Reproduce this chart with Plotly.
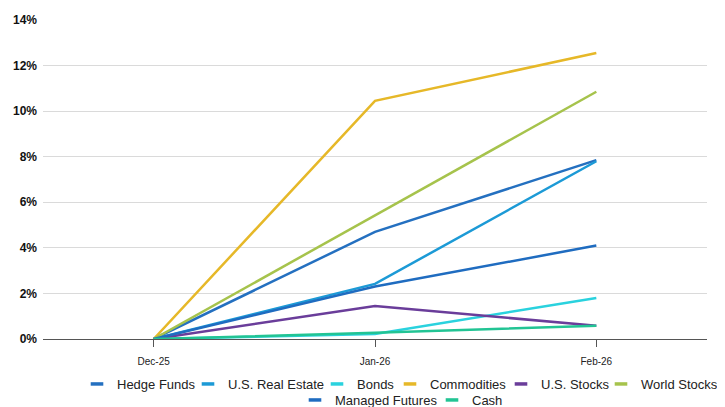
import plotly.graph_objects as go

dates = ["Dec-25", "Jan-26", "Feb-26"]
hedge_funds = [0, 4.7, 7.85]
us_real_estate = [0, 2.42, 7.8]
bonds = [0, 0.22, 1.8]
commodities = [0, 10.45, 12.55]
us_stocks = [0, 1.45, 0.58]
world_stocks = [0, 5.42, 10.85]
managed_futures = [0, 2.3, 4.1]
cash = [0, 0.27, 0.58]

names = ["Hedge Funds", "U.S. Real Estate", "Bonds", "Commodities",
         "U.S. Stocks", "World Stocks", "Managed Futures", "Cash"]
values = [hedge_funds, us_real_estate, bonds, commodities,
          us_stocks, world_stocks, managed_futures, cash]
colors = ["#2470c0", "#1c9ad6", "#2ad2de", "#e6b828",
          "#6a3d9a", "#a6c34c", "#1f6cc0", "#22c494"]
# legend layout in page pixels: (text start x, row center y)
leg_pos = [(114, 384), (225, 384), (354, 384), (427, 384),
           (538, 384), (638, 384), (332, 400), (469, 400)]

OFF = 8  # default page body margin
W, H = 725 - OFF, 407 - OFF
fig = go.Figure()
for name, vals, color in zip(names, values, colors):
    fig.add_trace(go.Scatter(x=dates, y=[v / 100 for v in vals], name=name,
                             mode="lines", line=dict(color=color, width=2.5),
                             showlegend=False))

legfont = dict(size=13, color="#222", family="Liberation Sans, Arial, sans-serif")
layout_legends = {}
for i, (name, color, (tx, ty)) in enumerate(zip(names, colors, leg_pos)):
    key = "legend" if i == 0 else f"legend{i + 1}"
    fig.add_trace(go.Scatter(x=[None], y=[None], name=name, mode="markers",
                             marker=dict(symbol="line-ew", size=9,
                                         line=dict(width=3.5, color=color)),
                             legend=key, hoverinfo="skip"))
    layout_legends[key] = dict(orientation="h", xref="container", yref="container",
                               x=(tx - 37 - OFF) / W, xanchor="left",
                               y=1 - (ty - OFF) / H, yanchor="middle",
                               font=legfont, itemwidth=30,
                               bgcolor="rgba(0,0,0,0)", borderwidth=0)

fig.update_layout(
    width=W, height=H,
    margin=dict(l=43 - OFF, r=18, t=20 - OFF, b=68, autoexpand=False),
    plot_bgcolor="white", paper_bgcolor="white",
    font=dict(family="Liberation Sans, Arial, sans-serif", color="#222"),
    xaxis=dict(type="category", range=[-0.5, 2.5], showgrid=False,
               showline=True, linecolor="#555", linewidth=1,
               ticks="outside", ticklen=7, tickcolor="#555",
               ticklabelstandoff=6, automargin=False,
               tickfont=dict(size=10, color="#222"), zeroline=False),
    yaxis=dict(range=[0, 0.14], dtick=0.02, tickformat=".0%",
               gridcolor="#dadada", gridwidth=1, zeroline=False,
               automargin=False, ticks="", ticklabelstandoff=5,
               tickfont=dict(size=12, color="#111")),
    **layout_legends,
)
fig.update_yaxes(tickprefix="<b>", ticksuffix="</b>")
fig.write_html("out.html")
